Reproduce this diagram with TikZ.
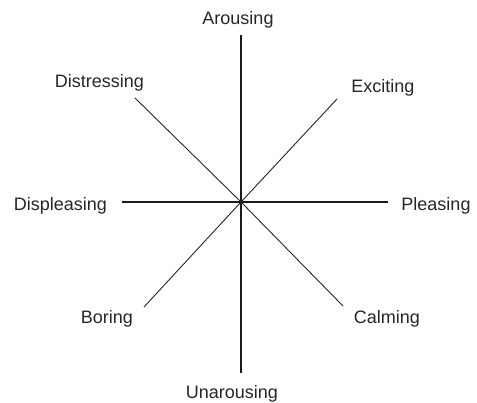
\documentclass[tikz,border=0pt]{standalone}
\usepackage{fontspec}
\setmainfont{Liberation Sans}
\begin{document}
\begin{tikzpicture}[x=1pt,y=-1pt,
  lbl/.style={anchor=base,inner sep=0pt,font=\fontsize{18}{20}\selectfont,text=black!85},
  axis/.style={line width=2.4pt,black!90},
  diag/.style={line width=0.9pt,black!85}]
\useasboundingbox (0,0) rectangle (477,402);
\coordinate (c) at (241,202);
\coordinate (n) at (241,35);
\coordinate (s) at (241,373);
\coordinate (w) at (122,202);
\coordinate (e) at (388,202);
\coordinate (nw) at (135,98);
\coordinate (ne) at (337,99);
\coordinate (sw) at (144,307);
\coordinate (se) at (343,306);
\draw[axis] (n) -- (s);
\draw[axis] (w) -- (e);
\draw[diag] (nw) -- (c);
\draw[diag] (ne) -- (c);
\draw[diag] (sw) -- (c);
\draw[diag] (se) -- (c);
\node[lbl] (arousing) at (238,24) {Arousing};
\node[lbl] (unarousing) at (232,398) {Unarousing};
\node[lbl] (displeasing) at (60.5,210) {Displeasing};
\node[lbl] (pleasing) at (436,210) {Pleasing};
\node[lbl] (distressing) at (99.5,87) {Distressing};
\node[lbl] (exciting) at (383,92) {Exciting};
\node[lbl] (boring) at (107,323) {Boring};
\node[lbl] (calming) at (387,323) {Calming};
\end{tikzpicture}
\end{document}
